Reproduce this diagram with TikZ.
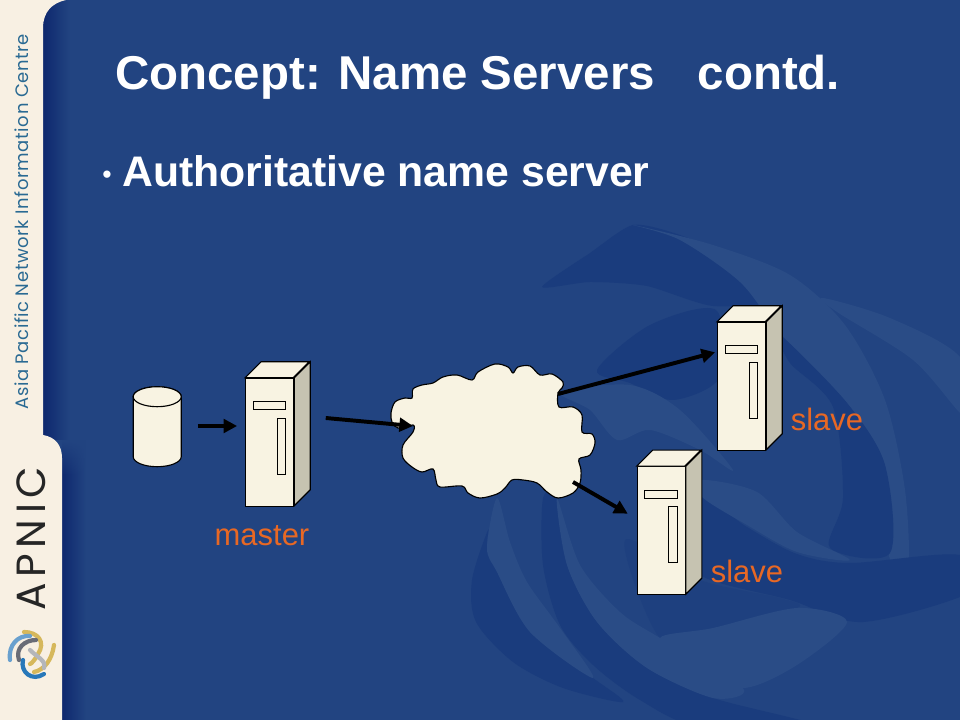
\documentclass[tikz,border=0pt]{standalone}
\usepackage{fontspec}
\setmainfont{Liberation Sans}
\newfontfamily\apnicfont[LetterSpace=14]{Poppins}
\newfontfamily\sidefont[LetterSpace=3.4]{Poppins}
\usepackage{xcolor}
\definecolor{apblue}{RGB}{34,68,129}
\definecolor{apedge}{RGB}{14,40,110}
\definecolor{apdark}{RGB}{26,60,125}
\definecolor{apmid}{RGB}{30,64,127}
\definecolor{aplight}{RGB}{42,76,134}
\definecolor{apcream}{RGB}{248,240,227}
\definecolor{apbox}{RGB}{248,243,226}
\definecolor{apside}{RGB}{198,195,177}
\definecolor{aporange}{RGB}{232,104,36}
\definecolor{apteal}{RGB}{42,106,147}
\definecolor{apgold}{RGB}{214,184,92}
\definecolor{aplogoblue}{RGB}{40,120,185}
\definecolor{apgray}{RGB}{105,108,118}
\usetikzlibrary{arrows.meta, fadings}
\tikzset{
  boxline/.style={draw=black, line width=0.8pt, line join=miter},
  serverfront/.style={boxline, fill=apbox, minimum width=1.2cm, minimum height=3.2cm, inner sep=0pt},
  linkarrow/.style={line width=2.8pt, -{Triangle[length=3.4mm,width=3.4mm]}},
  serverlabel/.style={font=\fontsize{22}{24}\selectfont, aporange},
  darkswirl/.style={fill=apdark},
  lightswirl/.style={fill=aplight},
  logostroke/.style={line width=3pt, line cap=round}
}
% front node plus top and side faces
\newcommand{\serverbox}[3]{
  \node[serverfront] (#1) at (#2,#3) {};
  \draw[boxline, fill=apbox] (#1.north west) -- ++(16,-16) -- ++(48,0) -- ++(-16,16) -- cycle;
  \draw[boxline, fill=apside] (#1.north east) -- ++(16,-16) -- ++(0,128) -- ++(-16,16) -- cycle;
  \draw[boxline] ([shift={(8,24)}]#1.north west) rectangle ++(32.5,8);
  \draw[boxline] ([shift={(32,40.5)}]#1.north west) rectangle ++(8.5,56);
}

\begin{document}
\begin{tikzpicture}[x=0.025cm,y=-0.025cm]
  \useasboundingbox (0,0) rectangle (960,720);
  \fill[apblue] (0,0) rectangle (960,720);

  % swirl behind the diagram
  \begin{scope}
    \clip (0,0) rectangle (960,720);
    \fill[darkswirl] plot[smooth cycle, tension=.4] coordinates {(542,287) (590,253) (633,225) (680,235) (740,262) (790,300) (713,306) (647,286) (590,282)};
    \fill[lightswirl] plot[smooth cycle, tension=.5] coordinates {(633,225) (713,245) (790,275) (845,325) (885,400) (905,490) (908,570) (888,553) (885,465) (847,403) (780,333) (740,282) (680,240)};
    \fill[lightswirl] plot[smooth cycle, tension=.5] coordinates {(823,298) (890,318) (960,357) (975,420) (960,413) (913,360) (837,312)};
    \fill[darkswirl] plot[smooth cycle, tension=.5] coordinates {(780,335) (847,403) (885,465) (890,553) (830,548) (843,498) (833,407) (790,363)};
    \fill[darkswirl] plot[smooth cycle, tension=.5] coordinates {(597,370) (650,325) (716,310) (720,377) (673,400) (630,383)};
    \fill[lightswirl] plot[smooth cycle, tension=.5] coordinates {(560,392) (630,385) (680,410) (733,470) (700,450) (650,430) (617,440) (590,410)};
    \fill[apmid] plot[smooth cycle, tension=.5] coordinates {(625,540) (660,638) (713,628) (797,608) (780,598) (700,580)};
    \fill[darkswirl] plot[smooth cycle, tension=.5] coordinates {(702,497) (747,527) (797,554) (850,563) (960,555) (975,590) (863,622) (790,600) (700,575) (690,530)};
    \fill[lightswirl] plot[smooth cycle, tension=.5] coordinates {(702,480) (757,492) (797,532) (850,560) (797,552) (747,525) (702,497)};
    \fill[darkswirl] plot[smooth cycle, tension=.5] coordinates {(543,498) (543,565) (560,625) (593,665) (640,700) (700,727) (820,727) (713,698) (647,668) (597,622) (567,565) (557,498)};
    \fill[darkswirl] plot[smooth cycle, tension=.5] coordinates {(488,530) (487,548) (497,572) (530,632) (593,678) (623,702) (563,688) (513,662) (476,622) (472,580)};
    \fill[lightswirl] plot[smooth cycle, tension=.5] coordinates {(497,498) (487,548) (497,572) (530,632) (593,678) (560,628) (527,582) (510,542)};
    \fill[lightswirl] plot[smooth cycle, tension=.5] coordinates {(557,498) (567,565) (597,622) (647,668) (713,698) (743,688) (660,638) (620,612) (580,565)};
    \fill[lightswirl] plot[smooth cycle, tension=.5] coordinates {(660,638) (713,628) (797,608) (847,622) (797,665) (743,688) (697,665)};
  \end{scope}

  % left edge of the blue panel
  \shade[left color=apedge, right color=apblue] (43,0) rectangle (70,440);
  \shade[left color=apedge, right color=apblue, path fading=north] (62,440) rectangle (86,476);
  \shade[left color=apedge, right color=apblue] (62,475) rectangle (86,720);
  \fill[apcream] (0,0) -- (66,0) .. controls (52,3) and (43,12) .. (43,28) -- (43,435)
    .. controls (55,437) and (62,445) .. (62,458) -- (62,720) -- (0,720) -- cycle;

  \node[rotate=90, anchor=west, inner sep=0pt, text=apteal, font=\sidefont\fontsize{12.8}{14}\selectfont] (sidetext) at (22,410) {Asia Pacific Network Information Centre};
  \node[rotate=90, anchor=west, inner sep=0pt, text=black!85, font=\apnicfont\fontsize{29}{31}\selectfont] (apnictext) at (31,611) {APNIC};

  % logo
  \draw[logostroke, apgold] (24,632) .. controls (38,632) and (46,642) .. (38,654) .. controls (35,660) and (31,664) .. (30,664);
  \draw[logostroke, apgold] (54,645) .. controls (52,660) and (44,670) .. (34,672);
  \draw[logostroke, aplogoblue!70] (10,660) .. controls (8,645) and (18,635) .. (30,636);
  \draw[logostroke, apgray] (19,660) .. controls (15,648) and (25,640) .. (36,640);
  \draw[logostroke, aplogoblue] (23,660) .. controls (20,672) and (32,682) .. (44,674);
  \draw[logostroke, apgray!50] (30,650) .. controls (38,658) and (46,660) .. (44,668);

  \node[anchor=base west, inner sep=0pt, text=white, font=\fontsize{33.75}{36}\selectfont\bfseries] (title) at (115,90) {Concept: Name Servers\hspace{0.9em}contd.};
  \node[anchor=base, inner sep=0pt, text=white, font=\fontsize{19}{21}\selectfont] (bullet) at (107,184) {•};
  \node[anchor=base west, inner sep=0pt, text=white, font=\fontsize{30.4}{32}\selectfont\bfseries] (subtitle) at (122,187) {Authoritative name server};

  \node[minimum width=1.2cm, minimum height=2cm, inner sep=0pt] (store) at (157.5,427) {};
  \draw[boxline, fill=apbox] ([shift={(0,10)}]store.north west) -- ++(0,60)
    arc[start angle=180, end angle=0, x radius=24, y radius=10] -- ++(0,-60)
    arc[start angle=0, end angle=-180, x radius=24, y radius=10] -- cycle;
  \draw[boxline, fill=apbox] ([shift={(24,10)}]store.north west) ellipse [x radius=24, y radius=10];
  \serverbox{master}{269.7}{442.3}
  \serverbox{slaveone}{741.7}{386.3}
  \serverbox{slavetwo}{661.3}{530.7}

  % cloud outline traced by hand
  \draw[line width=0.8pt, fill=apbox] plot[smooth cycle, tension=.55] coordinates {
    (391,413) (395,402) (405,398) (412,398) (413,389) (422,385) (433,383) (443,377) (457,375) (472,380)
    (478,372) (495,364) (508,367) (513,373) (518,367) (530,366) (540,375) (552,374) (563,382) (562,388)
    (558,393) (559,407) (573,407) (582,415) (582,432) (592,434) (595,443) (590,455) (579,459) (581,470)
    (580,483) (573,493) (558,498) (547,492) (537,483) (523,480) (512,480) (505,488) (497,494) (480,498)
    (468,493) (462,486) (440,487) (436,480) (433,469) (422,472) (412,467) (403,458) (403,445) (413,432)
    (413,425) (398,428) (392,422)};
  \coordinate (cloud) at (490,431);

  \draw[linkarrow] ([shift={(16,-1)}]store.east) -- ([shift={(-8,-16.3)}]master.west);
  \draw[linkarrow] ([shift={(31.5,-24.3)}]master.east) -- ([shift={(-77,-5)}]cloud);
  \draw[linkarrow] ([shift={(68,-37)}]cloud) -- ([shift={(-2,-34)}]slaveone.west);
  \draw[linkarrow] ([shift={(83,51)}]cloud) -- ([shift={(-9,-17)}]slavetwo.west);

  \node[serverlabel] (masterlabel) at (262,536) {master};
  \node[serverlabel] (slaveonelabel) at (827,419) {slave};
  \node[serverlabel] (slavetwolabel) at (747,571) {slave};
\end{tikzpicture}
\end{document}
